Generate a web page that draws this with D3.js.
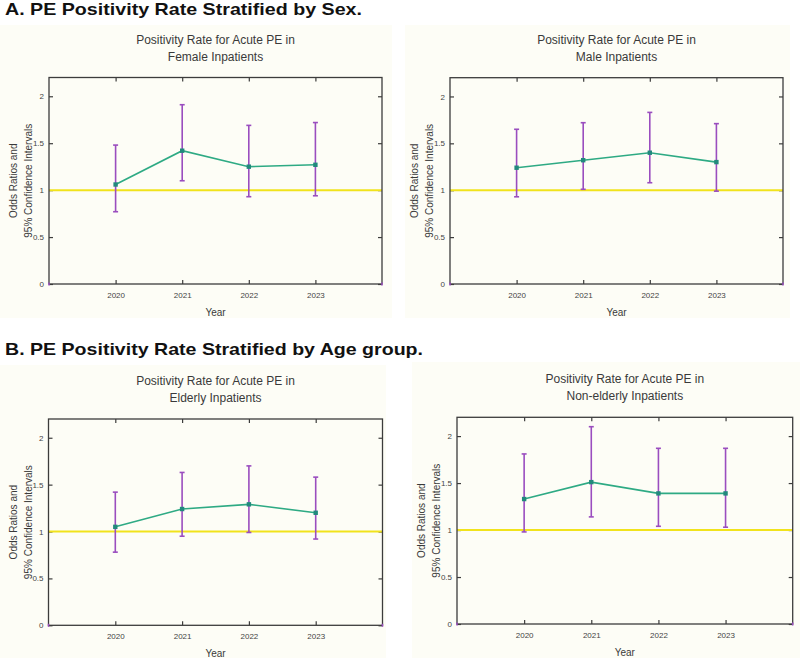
<!DOCTYPE html>
<html>
<head>
<meta charset="utf-8">
<script src="https://cdn.jsdelivr.net/npm/d3@7"></script>
<style>
  html, body { margin: 0; padding: 0; background: #ffffff; }
  svg { display: block; font-family: "Liberation Sans", Arial, Helvetica, sans-serif; }
</style>
</head>
<body>
<svg id="chart" width="800" height="658"></svg>
<script>
// ---------- data ----------
const years = [2020, 2021, 2022, 2023];
const yTickValues = [0, 0.5, 1, 1.5, 2];
const yTickLabels = ["0", "0.5", "1", "1.5", "2"];
const referenceOR = 1;

const femaleOR   = [1.06, 1.42, 1.25, 1.27];
const femaleLow  = [0.77, 1.10, 0.93, 0.94];
const femaleHigh = [1.48, 1.91, 1.69, 1.72];

const maleOR   = [1.24, 1.32, 1.40, 1.30];
const maleLow  = [0.93, 1.01, 1.08, 0.99];
const maleHigh = [1.65, 1.72, 1.83, 1.71];

const elderlyOR   = [1.05, 1.24, 1.29, 1.20];
const elderlyLow  = [0.78, 0.95, 0.99, 0.92];
const elderlyHigh = [1.42, 1.63, 1.70, 1.58];

const nonElderlyOR   = [1.33, 1.51, 1.39, 1.39];
const nonElderlyLow  = [0.98, 1.14, 1.04, 1.03];
const nonElderlyHigh = [1.81, 2.10, 1.87, 1.87];

const sectionTitles = [
  "A. PE Positivity Rate Stratified by Sex.",
  "B. PE Positivity Rate Stratified by Age group."
];
const panelTitleLine1 = "Positivity Rate for Acute PE in";
const panelGroups = ["Female Inpatients", "Male Inpatients", "Elderly Inpatients", "Non-elderly Inpatients"];
const yLabelLines = ["Odds Ratios and", "95% Confidence Intervals"];
const xLabel = "Year";

// ---------- layout ----------
const layouts = [
  { bg: [0, 25, 392, 293],   box: [49, 77.5, 382, 284] },
  { bg: [405, 25, 385, 293], box: [450, 77.7, 783, 284] },
  { bg: [0, 365, 386, 293],  box: [48.5, 419, 382.5, 625.3] },
  { bg: [412, 362, 388, 296], box: [457, 417.3, 792.7, 624] }
];
const series = [
  [femaleOR, femaleLow, femaleHigh],
  [maleOR, maleLow, maleHigh],
  [elderlyOR, elderlyLow, elderlyHigh],
  [nonElderlyOR, nonElderlyLow, nonElderlyHigh]
];

const COL = {
  bg: "#fdfdf6", axis: "#3c3c3c", text: "#3a3a3a",
  green: "#2eaa84", marker: "#22897c", purple: "#9a4dbf", yellow: "#f1e31c"
};

const svg = d3.select("#chart");

// section headers
svg.append("text").attr("x", 5).attr("y", 15)
  .attr("font-size", 17).attr("font-weight", "bold").attr("fill", "#111")
  .attr("textLength", 357).attr("lengthAdjust", "spacingAndGlyphs")
  .text(sectionTitles[0]);
svg.append("text").attr("x", 5).attr("y", 355)
  .attr("font-size", 17).attr("font-weight", "bold").attr("fill", "#111")
  .attr("textLength", 418).attr("lengthAdjust", "spacingAndGlyphs")
  .text(sectionTitles[1]);

layouts.forEach((L, i) => {
  const [bx, by, bw, bh] = L.bg;
  const [x0, y0, x1, y1] = L.box;
  const [orv, lo, hi] = series[i];

  svg.append("rect").attr("x", bx).attr("y", by).attr("width", bw).attr("height", bh)
    .attr("fill", COL.bg);

  const g = svg.append("g");
  const x = d3.scaleLinear().domain([2019, 2024]).range([x0, x1]);
  const y = d3.scaleLinear().domain([0, 2.2]).range([y1, y0]);
  const cx = (x0 + x1) / 2, cy = (y0 + y1) / 2;

  // titles
  g.append("text").attr("x", cx).attr("y", y0 - 34).attr("text-anchor", "middle")
    .attr("font-size", 12).attr("fill", COL.text).text(panelTitleLine1);
  g.append("text").attr("x", cx).attr("y", y0 - 17).attr("text-anchor", "middle")
    .attr("font-size", 12).attr("fill", COL.text).text(panelGroups[i]);

  // y label
  yLabelLines.forEach((t, k) => {
    g.append("text")
      .attr("transform", `translate(${x0 - 32 + k * 15},${cy}) rotate(-90)`)
      .attr("text-anchor", "middle").attr("font-size", 10).attr("fill", COL.text)
      .text(t);
  });
  // x label
  g.append("text").attr("x", cx).attr("y", y1 + 32).attr("text-anchor", "middle")
    .attr("font-size", 10).attr("fill", COL.text).text(xLabel);

  // axes
  const fmt = d => yTickLabels[yTickValues.indexOf(d)];
  const styleAxis = sel => {
    sel.select(".domain").remove();
    sel.selectAll(".tick line").attr("stroke", COL.axis).attr("stroke-width", 1.2);
    sel.selectAll(".tick text").attr("fill", "#444").attr("font-size", 8)
      .attr("font-family", "'Liberation Sans', Arial, sans-serif");
  };
  g.append("g").attr("transform", `translate(${x0},0)`)
    .call(d3.axisLeft(y).tickValues(yTickValues).tickFormat(fmt).tickSize(-4).tickPadding(5))
    .call(styleAxis);
  g.append("g").attr("transform", `translate(${x1},0)`)
    .call(d3.axisRight(y).tickValues(yTickValues).tickFormat("").tickSize(-4))
    .call(styleAxis);
  g.append("g").attr("transform", `translate(0,${y1})`)
    .call(d3.axisBottom(x).tickValues(years).tickFormat(d3.format("d")).tickSize(-4).tickPadding(8))
    .call(styleAxis);
  g.append("g").attr("transform", `translate(0,${y0})`)
    .call(d3.axisTop(x).tickValues(years).tickFormat("").tickSize(-4))
    .call(styleAxis);

  // reference line at OR = 1
  g.append("line").attr("x1", x0).attr("x2", x1)
    .attr("y1", y(referenceOR)).attr("y2", y(referenceOR))
    .attr("stroke", COL.yellow).attr("stroke-width", 2);

  // frame
  g.append("rect").attr("x", x0).attr("y", y0).attr("width", x1 - x0).attr("height", y1 - y0)
    .attr("fill", "none").attr("stroke", COL.axis).attr("stroke-width", 1.3);

  // purple corner marks at domain ends
  [2019, 2024].forEach(v => {
    g.append("line").attr("x1", x(v)).attr("x2", x(v)).attr("y1", y1 - 1.5).attr("y2", y1 + 1.5)
      .attr("stroke", COL.purple).attr("stroke-width", 1.5);
  });

  // error bars
  const eb = g.append("g").attr("stroke", COL.purple).attr("stroke-width", 1.6).attr("fill", "none");
  years.forEach((yr, j) => {
    const px = x(yr);
    eb.append("line").attr("x1", px).attr("x2", px).attr("y1", y(lo[j])).attr("y2", y(hi[j]));
    eb.append("line").attr("x1", px - 2.5).attr("x2", px + 2.5).attr("y1", y(lo[j])).attr("y2", y(lo[j]));
    eb.append("line").attr("x1", px - 2.5).attr("x2", px + 2.5).attr("y1", y(hi[j])).attr("y2", y(hi[j]));
  });

  // line
  const line = d3.line().x((d, j) => x(years[j])).y(d => y(d));
  g.append("path").datum(orv).attr("d", line).attr("fill", "none")
    .attr("stroke", COL.green).attr("stroke-width", 1.6);

  // markers
  g.selectAll(".mk").data(orv).enter().append("rect")
    .attr("x", (d, j) => x(years[j]) - 2.2).attr("y", d => y(d) - 2.2)
    .attr("width", 4.4).attr("height", 4.4).attr("fill", COL.marker);
});
</script>
</body>
</html>
